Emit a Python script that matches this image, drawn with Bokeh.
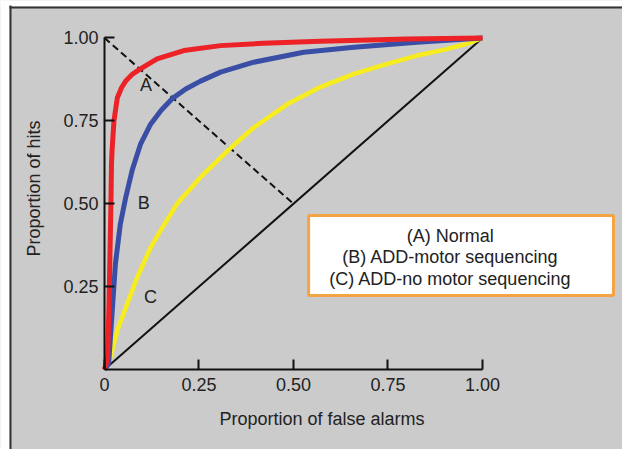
import math
from bokeh.plotting import figure
from bokeh.models import Range1d, FixedTicker, NumeralTickFormatter, Label, BoxAnnotation
from bokeh.embed import file_html
from bokeh.resources import INLINE

# ---- data ----
red_x = [0, 0.008, 0.012, 0.014, 0.017, 0.0185, 0.02, 0.025, 0.034, 0.045, 0.056, 0.075, 0.095, 0.139, 0.21, 0.307, 0.42, 0.571, 0.8, 1.0]
red_y = [0, 0.03, 0.20, 0.32, 0.50, 0.62, 0.66, 0.75, 0.82, 0.85, 0.87, 0.892, 0.907, 0.937, 0.962, 0.977, 0.984, 0.99, 0.997, 1.0]

blue_x = [0, 0.011, 0.02, 0.029, 0.042, 0.056, 0.073, 0.095, 0.122, 0.15, 0.179, 0.215, 0.254, 0.307, 0.395, 0.527, 0.66, 0.827, 1.0]
blue_y = [0, 0.018, 0.169, 0.32, 0.44, 0.518, 0.60, 0.679, 0.74, 0.782, 0.817, 0.846, 0.87, 0.897, 0.927, 0.957, 0.972, 0.987, 1.0]

yellow_x = [0, 0.016, 0.034, 0.06, 0.087, 0.122, 0.148, 0.192, 0.254, 0.333, 0.395, 0.483, 0.571, 0.66, 0.748, 0.827, 0.9, 0.96, 1.0]
yellow_y = [0, 0.037, 0.118, 0.198, 0.279, 0.368, 0.419, 0.50, 0.58, 0.668, 0.73, 0.80, 0.852, 0.892, 0.922, 0.947, 0.965, 0.983, 1.0]

chance_x = [0, 1]
chance_y = [0, 1]
dash_x = [0, 0.5]
dash_y = [1, 0.5]

x_ticks = [0, 0.25, 0.5, 0.75, 1.0]
y_ticks = [0.25, 0.5, 0.75, 1.0]

curve_labels = ["A", "B", "C"]
label_x = [0.11, 0.104, 0.122]
label_y = [0.858, 0.502, 0.218]

legend_lines = ["(A) Normal", "(B) ADD-motor sequencing", "(C) ADD-no motor sequencing"]
x_title = "Proportion of false alarms"
y_title = "Proportion of hits"

FONT = "Liberation Sans"
FS = "18px"
BG = "#cbcbcb"
TXT = "#222222"

W, H = 622, 449
p = figure(width=W, height=H, output_backend="svg", toolbar_location=None,
           x_range=Range1d(-0.27513, 1.37037), y_range=Range1d(-0.24133, 1.11312),
           min_border=0, background_fill_color=BG, border_fill_color=BG,
           outline_line_color=None)
p.grid.visible = False

for ax in (p.xaxis[0], p.yaxis[0]):
    ax.fixed_location = 0
    ax.axis_line_width = 2
    ax.axis_line_color = "#111111"
    ax.major_tick_line_width = 2
    ax.major_tick_line_color = "#111111"
    ax.major_tick_in = 10
    ax.major_tick_out = 0
    ax.minor_tick_line_color = None
    ax.major_label_text_font = FONT
    ax.major_label_text_font_size = FS
    ax.major_label_text_color = TXT
    ax.bounds = (0, 1)
    ax.formatter = NumeralTickFormatter(format="0.00")

p.xaxis[0].ticker = FixedTicker(ticks=x_ticks)
p.yaxis[0].ticker = FixedTicker(ticks=y_ticks)
p.xaxis[0].major_label_overrides = {0: "0"}
p.xaxis[0].major_label_standoff = 9
p.yaxis[0].major_label_standoff = 6

# reference lines
p.line(chance_x, chance_y, line_color="#111111", line_width=2)
p.line(dash_x, dash_y, line_color="#111111", line_width=2, line_dash="7 4")

# curves
p.line(yellow_x, yellow_y, line_color="#f7ec1e", line_width=4.5, line_join="round")
p.line(blue_x, blue_y, line_color="#3a4ea6", line_width=5, line_join="round")
p.line(red_x, red_y, line_color="#ec2227", line_width=5, line_join="round")

for t, lx, ly in zip(curve_labels, label_x, label_y):
    p.add_layout(Label(x=lx, y=ly, text=t, text_font=FONT, text_font_size=FS,
                       text_color=TXT, text_align="center", text_baseline="middle"))

# legend box
p.add_layout(BoxAnnotation(left=0.54, right=1.3466, bottom=0.2232, top=0.4646,
                           fill_color="white", fill_alpha=1.0,
                           line_color="#f3a445", line_width=3, line_alpha=1.0))
for i, t in enumerate(legend_lines):
    p.add_layout(Label(x=0.915, y=0.404 - i * 0.065, text=t, text_font=FONT,
                       text_font_size=FS, text_color=TXT,
                       text_align="center", text_baseline="middle"))

# axis titles
p.add_layout(Label(x=0.5754, y=-0.1508, text=x_title, text_font=FONT, text_font_size=FS,
                   text_color=TXT, text_align="center", text_baseline="middle"))
p.add_layout(Label(x=-0.1878, y=0.546, text=y_title, text_font=FONT, text_font_size=FS,
                   text_color=TXT, text_align="center", text_baseline="middle",
                   angle=math.pi / 2))

# white margin strips and outer frame lines (left and top)
p.add_layout(BoxAnnotation(left=-0.3, right=-0.2513, bottom=-0.3, top=1.2,
                           fill_color="white", fill_alpha=1.0, line_color=None))
p.add_layout(BoxAnnotation(left=-0.3, right=1.4, bottom=1.095, top=1.2,
                           fill_color="white", fill_alpha=1.0, line_color=None))
p.add_layout(BoxAnnotation(left=-0.2513, right=-0.246, bottom=-0.3, top=1.098,
                           fill_color="#333333", fill_alpha=1.0, line_color=None))
p.add_layout(BoxAnnotation(left=-0.2513, right=1.4, bottom=1.089, top=1.095,
                           fill_color="#333333", fill_alpha=1.0, line_color=None))

open("out.html", "w").write(file_html(p, INLINE))
